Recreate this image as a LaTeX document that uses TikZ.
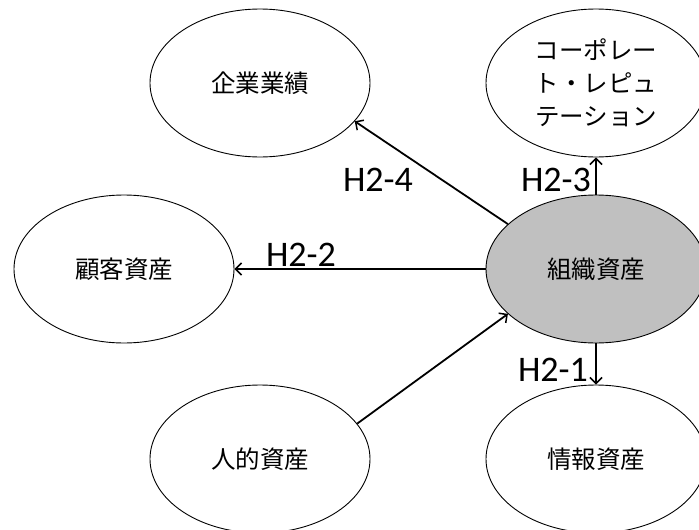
\documentclass[tikz,border=0pt]{standalone}
\usepackage{fontspec}
\setmainfont{Carlito}
\newfontfamily\jp{Noto Sans CJK JP}
\usetikzlibrary{shapes.geometric,arrows.meta}
\definecolor{orggray}{RGB}{192,192,192}
\begin{document}
\begin{tikzpicture}[x=1pt,y=-1pt,
  blob/.style={ellipse,draw=black,line width=0.9pt,fill=white,minimum width=220pt,minimum height=148pt,inner sep=0pt,
    font=\jp\fontsize{24.5}{33}\selectfont,align=center},
  conn/.style={line width=1.8pt,-{Straight Barb[length=6pt,width=12pt,line width=1.5pt]}},
  hlabel/.style={font=\fontsize{36}{40}\selectfont,inner sep=0pt}]
\useasboundingbox (0,0) rectangle (699,530);
\node[blob] (A) at (260,83) {企業業績};
\node[blob] (B) at (596,83) {コーポレー\\ト・レピュ\\テーション};
\node[blob] (C) at (124,269) {顧客資産};
\node[blob,fill=orggray] (D) at (596,269) {組織資産};
\node[blob] (E) at (260,459) {人的資産};
\node[blob] (F) at (596,459) {情報資産};
\draw[conn] (D.north) -- (B.south);
\draw[conn] (D.south) -- (F.north);
\draw[conn] (D.west) -- (C.east);
\draw[conn] (D.153) -- (A.-22);
\draw[conn] (E.20) -- (D.207);
\node[hlabel] (l3) at (556,180) {H2-3};
\node[hlabel] (l1) at (553,370) {H2-1};
\node[hlabel] (l2) at (301,255) {H2-2};
\node[hlabel] (l4) at (378,180) {H2-4};
\end{tikzpicture}
\end{document}
